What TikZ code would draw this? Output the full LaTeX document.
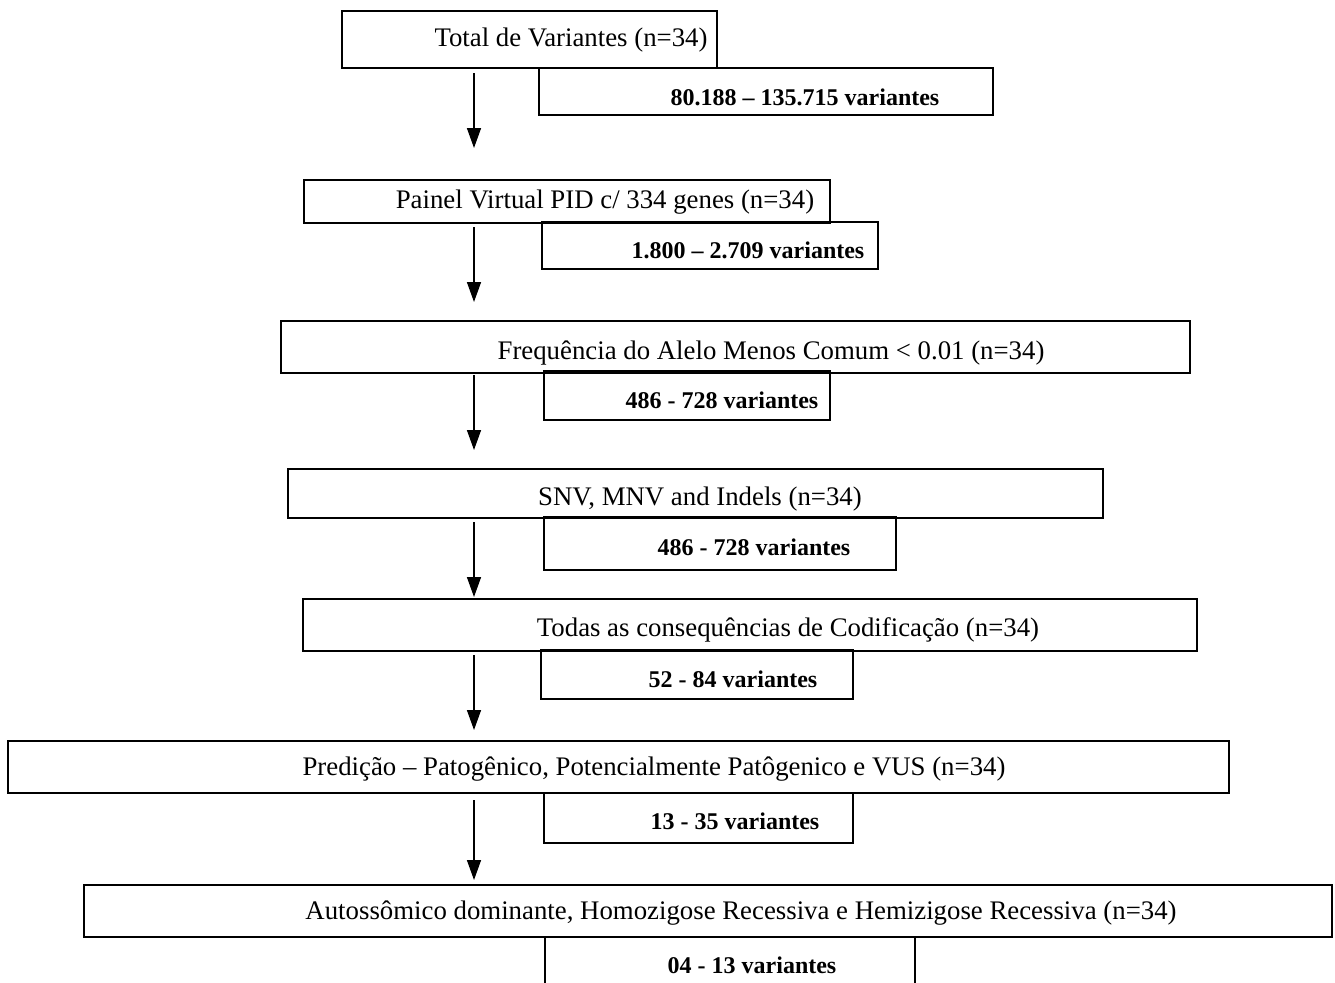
\documentclass[tikz,border=0pt]{standalone}
\usepackage{fontspec}
\setmainfont{Liberation Serif}
\usetikzlibrary{arrows.meta,fit}
\begin{document}
\begin{tikzpicture}[x=0.5pt,y=-0.5pt,
  box/.style={draw=black, line width=1.2pt, inner sep=0pt, rectangle},
  lbl/.style={inner sep=0pt, font=\fontsize{13.4pt}{16pt}\selectfont},
  cnt/.style={inner sep=0pt, font=\fontsize{12pt}{14pt}\selectfont\bfseries},
  arr/.style={line width=0.75pt, -{Triangle[width=7pt,length=10pt]}}]
\useasboundingbox (0,0) rectangle (1335,982);
\fill[white] (0,0) rectangle (1335,982);
% main boxes
\node[box, fit={(342,11)(717,68)}] (b1) {};
\node[box, fit={(539,68)(993,115)}] (b2) {};
\node[box, fit={(304,180)(830,223)}] (b3) {};
\node[box, fit={(542,222)(878,269)}] (b4) {};
\node[box, fit={(281,321)(1190,373)}] (b5) {};
\node[box, fit={(544,371)(830,420)}] (b6) {};
\node[box, fit={(288,469)(1103,518)}] (b7) {};
\node[box, fit={(544,517)(896,570)}] (b8) {};
\node[box, fit={(303,599)(1197,651)}] (b9) {};
\node[box, fit={(541,650)(853,699)}] (b10) {};
\node[box, fit={(8,741)(1229,793)}] (b11) {};
\node[box, fit={(544,793)(853,843)}] (b12) {};
\node[box, fit={(84,885)(1332,937)}] (b13) {};
\node[box, fit={(545,937)(915,1000)}] (b14) {};
% texts
\node[lbl] (t1) at (571,40) {Total de Variantes (n=34)};
\node[cnt] (t2) at (805,97) {80.188 – 135.715 variantes};
\node[lbl] (t3) at (605,202) {Painel Virtual PID c/ 334 genes (n=34)};
\node[cnt] (t4) at (748,250) {1.800 – 2.709 variantes};
\node[lbl] (t5) at (771,353) {Frequência do Alelo Menos Comum < 0.01 (n=34)};
\node[cnt] (t6) at (722,400) {486 - 728 variantes};
\node[lbl] (t7) at (700,499) {SNV, MNV and Indels (n=34)};
\node[cnt] (t8) at (754,547) {486 - 728 variantes};
\node[lbl] (t9) at (788,630) {Todas as consequências de Codificação (n=34)};
\node[cnt] (t10) at (733,679) {52 - 84 variantes};
\node[lbl] (t11) at (654,769) {Predição – Patogênico, Potencialmente Patôgenico e VUS (n=34)};
\node[cnt] (t12) at (735,821) {13 - 35 variantes};
\node[lbl] (t13) at (741,913) {Autossômico dominante, Homozigose Recessiva e Hemizigose Recessiva (n=34)};
\node[cnt] (t14) at (752,965) {04 - 13 variantes};
% arrow ends
\coordinate (a1s) at (474,73);  \coordinate (a1e) at (474,148);
\coordinate (a2s) at (474,227); \coordinate (a2e) at (474,302);
\coordinate (a3s) at (474,375); \coordinate (a3e) at (474,450);
\coordinate (a4s) at (474,522); \coordinate (a4e) at (474,597);
\coordinate (a5s) at (474,655); \coordinate (a5e) at (474,730);
\coordinate (a6s) at (474,800); \coordinate (a6e) at (474,880);
\draw[arr] (a1s) -- (a1e);
\draw[arr] (a2s) -- (a2e);
\draw[arr] (a3s) -- (a3e);
\draw[arr] (a4s) -- (a4e);
\draw[arr] (a5s) -- (a5e);
\draw[arr] (a6s) -- (a6e);
\end{tikzpicture}
\end{document}
